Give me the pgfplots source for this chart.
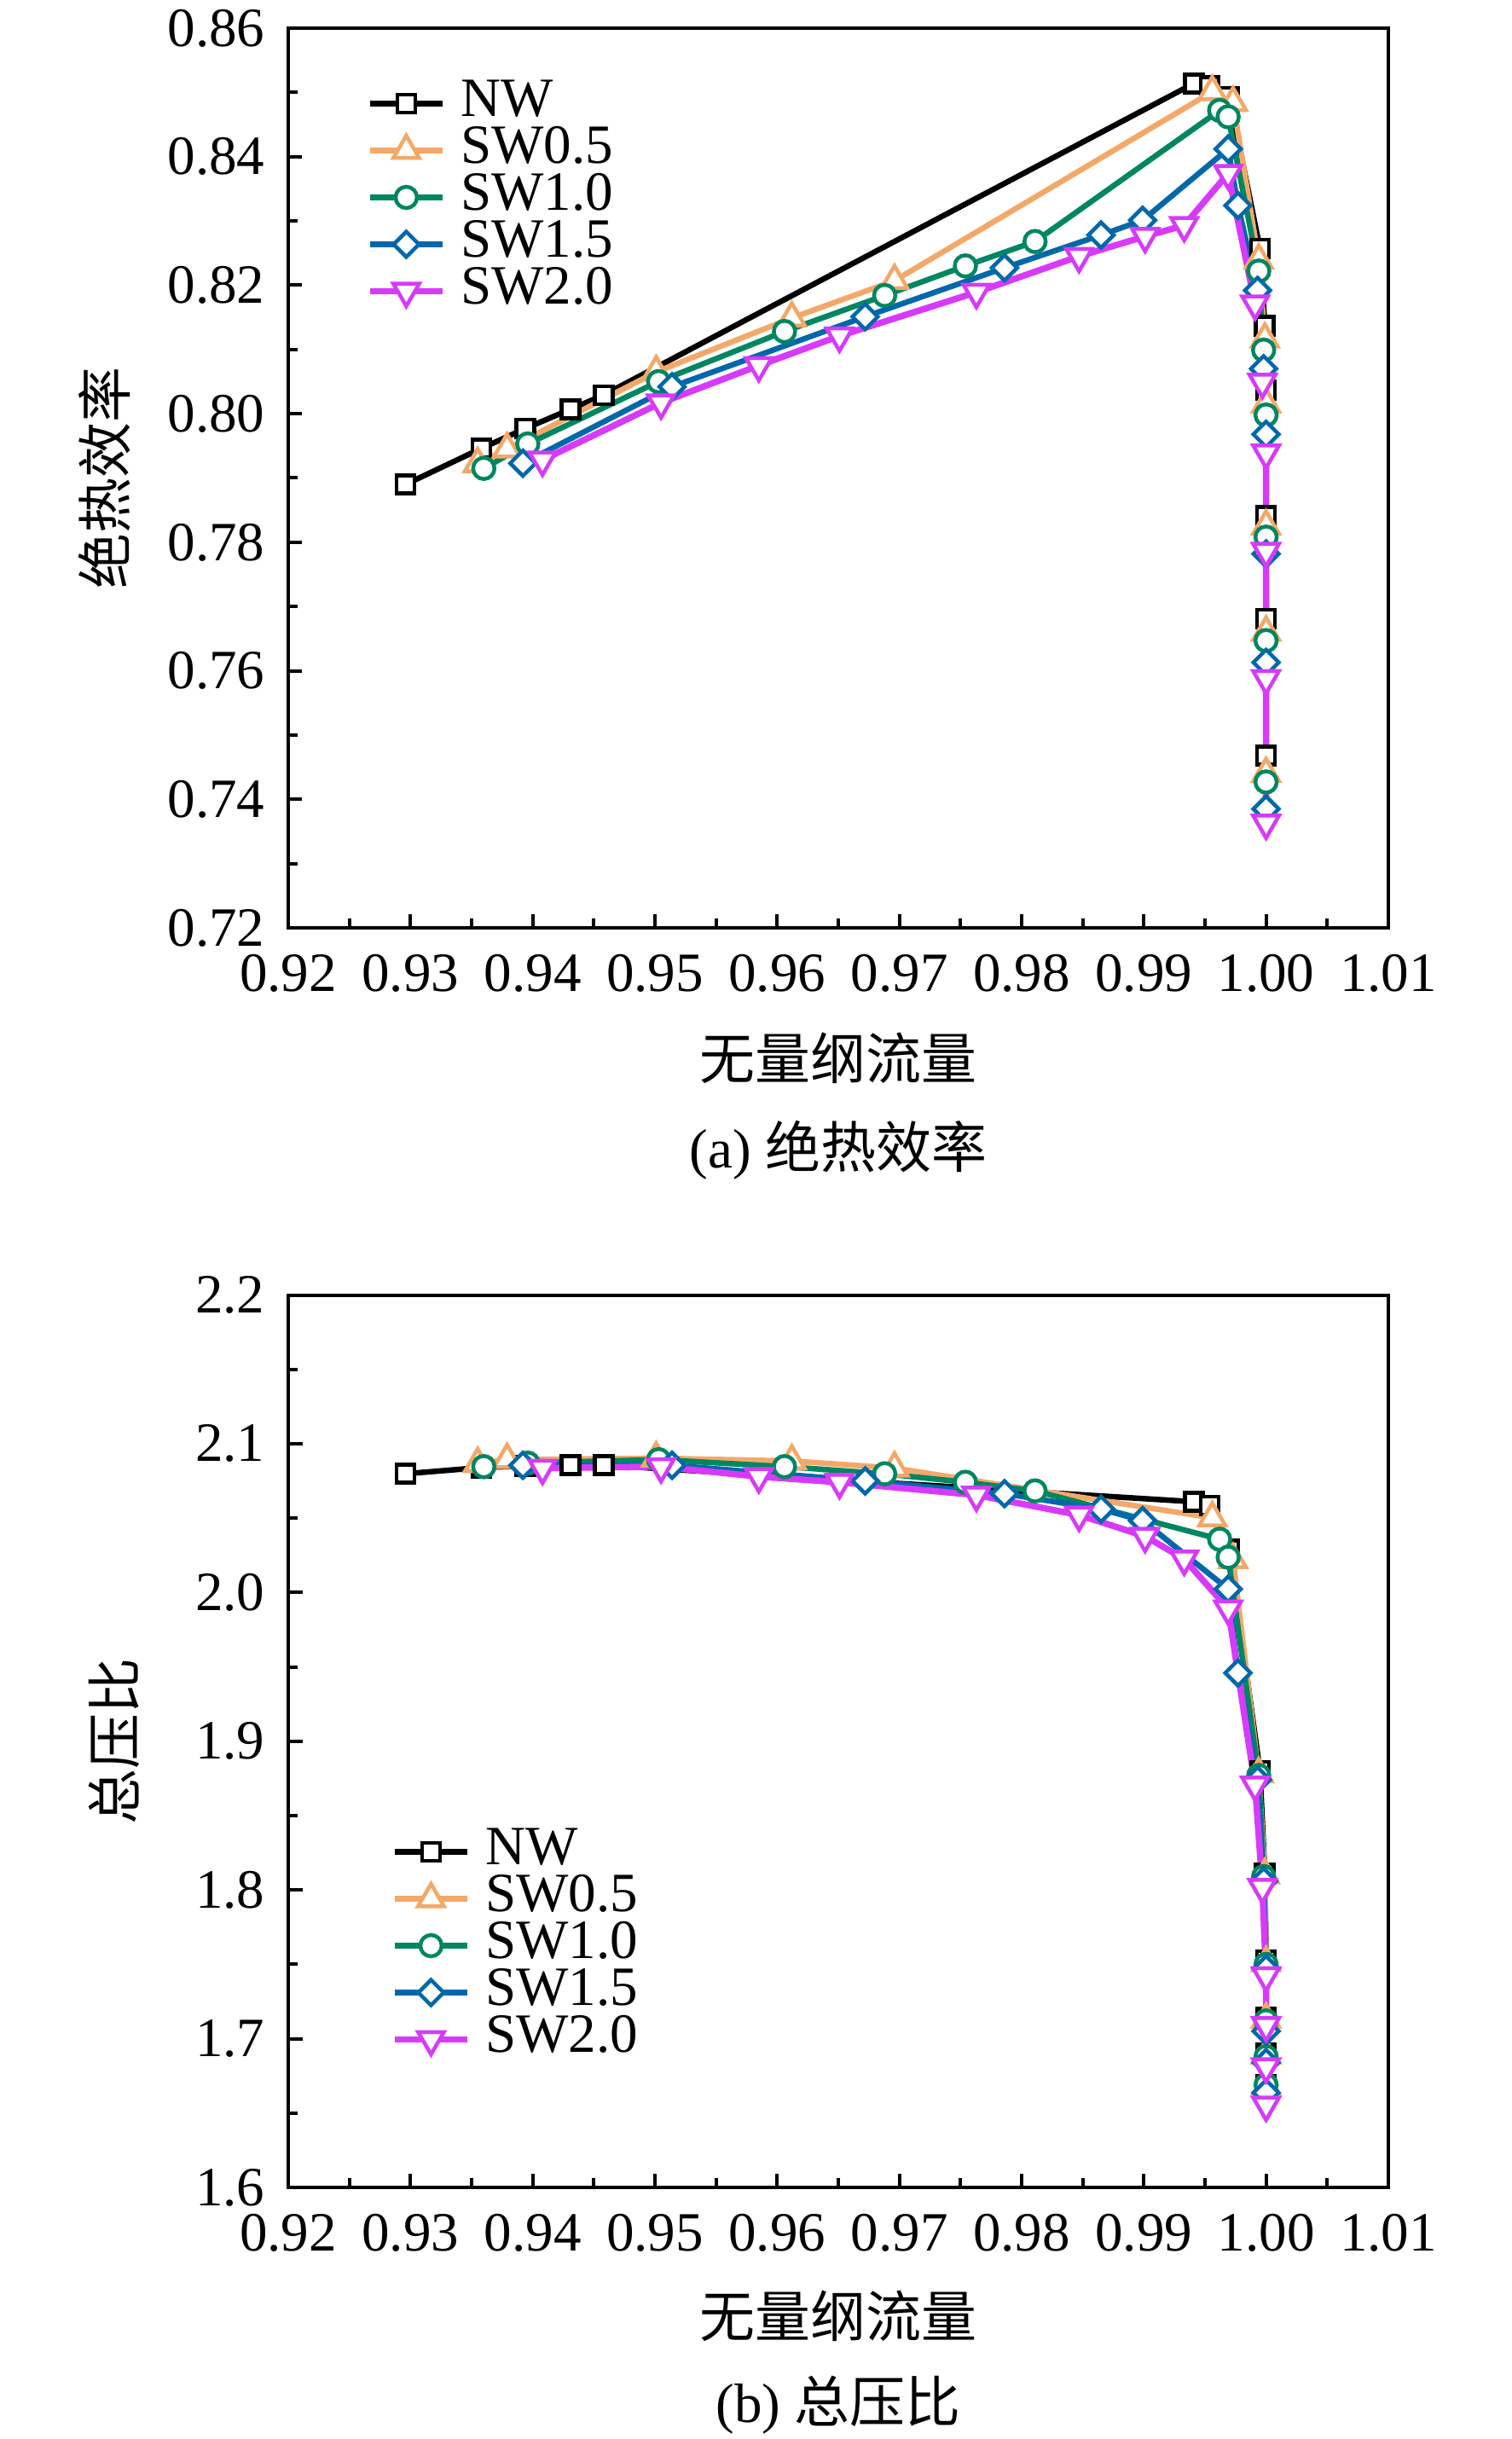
\documentclass[border=0pt]{standalone}
\usepackage{fontspec}
\setmainfont{Liberation Serif}
\newfontfamily\cjk{Noto Sans CJK SC}
\usepackage{pgfplots}
\pgfplotsset{compat=1.18}
\usepackage{pgfplotstable}

\definecolor{cOr}{RGB}{244,168,104}
\definecolor{cGr}{RGB}{0,134,96}
\definecolor{cBl}{RGB}{0,104,170}
\definecolor{cMa}{RGB}{215,58,250}

\pgfplotstableread{
x      eff     pr
0.9296 0.7890 2.0798
0.9358 0.7946 2.0840
0.9394 0.7977 2.0850
0.9431 0.8007 2.0856
0.9458 0.8029 2.0856
0.9941 0.8514 2.0610
0.9954 0.8510 2.0585
0.9970 0.8493 2.0290
0.9995 0.8257 1.8800
0.9999 0.8137 1.8112
1.0000 0.8037 1.7529
1.0000 0.7841 1.7140
1.0000 0.7681 1.6900
1.0000 0.7468 1.6690
}\tNW

\pgfplotstableread{
x      eff     pr
0.9355 0.7922 2.0865
0.9379 0.7945 2.0893
0.9501 0.8065 2.0903
0.9612 0.8149 2.0884
0.9696 0.8207 2.0836
0.9956 0.8501 2.0502
0.9973 0.8484 2.0220
0.9994 0.8239 1.8780
0.9999 0.8116 1.8100
1.0000 0.8015 1.7510
1.0000 0.7825 1.7130
1.0000 0.7660 1.6890
1.0000 0.7440 1.6680
}\tSWa

\pgfplotstableread{
x      eff     pr
0.9360 0.7915 2.0846
0.9396 0.7953 2.0870
0.9503 0.8050 2.0893
0.9606 0.8128 2.0846
0.9688 0.8184 2.0798
0.9754 0.8230 2.0741
0.9811 0.8268 2.0683
0.9962 0.8472 2.0358
0.9969 0.8462 2.0237
0.9994 0.8222 1.8770
0.9998 0.8099 1.8090
1.0000 0.7998 1.7500
1.0000 0.7808 1.7120
1.0000 0.7647 1.6880
1.0000 0.7427 1.6690
}\tSWb

\pgfplotstableread{
x      eff     pr
0.9392 0.7923 2.0855
0.9514 0.8042 2.0855
0.9672 0.8151 2.0750
0.9786 0.8227 2.0664
0.9865 0.8278 2.0560
0.9899 0.8301 2.0483
0.9969 0.8412 2.0023
0.9977 0.8324 1.9459
0.9993 0.8192 1.8740
0.9998 0.8070 1.8060
1.0000 0.7968 1.7470
1.0000 0.7782 1.7051
1.0000 0.7613 1.6840
1.0000 0.7385 1.6637
}\tSWc

\pgfplotstableread{
x      eff     pr
0.9408 0.7928 2.0836
0.9505 0.8017 2.0846
0.9585 0.8075 2.0779
0.9651 0.8121 2.0741
0.9763 0.8189 2.0655
0.9847 0.8245 2.0521
0.9901 0.8276 2.0378
0.9933 0.8293 2.0225
0.9969 0.8374 1.9890
0.9991 0.8171 1.8705
0.9997 0.8049 1.8017
1.0000 0.7939 1.7424
1.0000 0.7786 1.7089
1.0000 0.7588 1.6812
1.0000 0.7363 1.6554
}\tSWd

\pgfplotsset{
  myaxis/.style={
    scale only axis, width=258pt,
    xmin=0.92, xmax=1.01,
    xtick={0.92,0.93,0.94,0.95,0.96,0.97,0.98,0.99,1.00,1.01},
    minor x tick num=1, minor y tick num=1,
    xtick pos=left, ytick pos=left,
    tick align=inside,
    major tick length=3.3pt, minor tick length=2.2pt,
    tick style={black, line width=0.8pt},
    axis line style={line width=0.8pt},
    tick label style={font=\fontsize{13}{15}\selectfont},
    /pgf/number format/assume math mode=true,
    xticklabel style={yshift=-2.8pt, /pgf/number format/.cd, fixed, fixed zerofill, precision=2},
    label style={font=\fontsize{13}{15}\selectfont\cjk},
    xlabel style={anchor=center},
    ylabel style={anchor=center},
    legend cell align=left,
    legend style={draw=none, fill=none, inner sep=0pt, row sep=0pt,
      font=\fontsize{13}{15}\selectfont,
      nodes={inner ysep=0pt, inner xsep=3.5pt, text height=8.5pt, text depth=2.5pt}},
  },
  pNW/.style={black, line width=1.3pt, mark=square*, mark size=2.1pt, mark options={fill=white, line width=0.9pt}},
  pSWa/.style={cOr, line width=1.3pt, mark=triangle*, mark size=3.5pt, mark options={fill=white, line width=0.9pt}},
  pSWb/.style={cGr, line width=1.3pt, mark=*, mark size=2.5pt, mark options={fill=white, line width=0.9pt}},
  pSWc/.style={cBl, line width=1.3pt, mark=square*, mark size=2.1pt, mark options={rotate=45, fill=white, line width=0.9pt}},
  pSWd/.style={cMa, line width=1.5pt, mark=triangle*, mark size=3.5pt, mark options={rotate=180, fill=white, line width=0.9pt}},
}

\begin{document}
\begin{tikzpicture}
\path[use as bounding box] (-67.6pt,6.6pt) rectangle (286.8pt,-565.4pt);

\begin{axis}[myaxis, name=top, at={(0,0)}, anchor=north west,
  height=211pt,
  ymin=0.72, ymax=0.86,
  ytick={0.72,0.74,0.76,0.78,0.80,0.82,0.84,0.86},
  yticklabel style={xshift=-2pt, /pgf/number format/.cd, fixed, fixed zerofill, precision=2},
  xlabel={无量纲流量}, ylabel={绝热效率},
  xlabel style={at={(axis description cs:0.5,-0.145)}},
  ylabel style={at={(axis description cs:-0.167,0.5)}},
  legend style={at={(axis description cs:0,1)}, anchor=north west, xshift=18.2pt, yshift=-12pt},
]
\addplot[pNW] table[x=x,y=eff]{\tNW};
\addplot[pSWa] table[x=x,y=eff]{\tSWa};
\addplot[pSWb] table[x=x,y=eff]{\tSWb};
\addplot[pSWc] table[x=x,y=eff]{\tSWc};
\addplot[pSWd] table[x=x,y=eff]{\tSWd};
\legend{NW,SW0.5,SW1.0,SW1.5,SW2.0}
\end{axis}
\node[font=\fontsize{13}{15}\selectfont] at ([yshift=-52.2pt]top.south) {(a) {\cjk 绝热效率}};

\begin{axis}[myaxis, name=bot, at={(0,-297.1pt)}, anchor=north west,
  height=209.3pt,
  ymin=1.6, ymax=2.2,
  ytick={1.6,1.7,1.8,1.9,2.0,2.1,2.2},
  yticklabel style={xshift=-2pt, /pgf/number format/.cd, fixed, fixed zerofill, precision=1},
  xlabel={无量纲流量}, ylabel={总压比},
  xlabel style={at={(axis description cs:0.5,-0.1443)}},
  ylabel style={at={(axis description cs:-0.158,0.5)}},
  legend style={at={(axis description cs:0,0)}, anchor=south west, xshift=24pt, yshift=29pt},
]
\addplot[pNW] table[x=x,y=pr]{\tNW};
\addplot[pSWa] table[x=x,y=pr]{\tSWa};
\addplot[pSWb] table[x=x,y=pr]{\tSWb};
\addplot[pSWc] table[x=x,y=pr]{\tSWc};
\addplot[pSWd] table[x=x,y=pr]{\tSWd};
\legend{NW,SW0.5,SW1.0,SW1.5,SW2.0}
\end{axis}
\node[font=\fontsize{13}{15}\selectfont] at ([yshift=-51pt]bot.south) {(b) {\cjk 总压比}};
\end{tikzpicture}
\end{document}
